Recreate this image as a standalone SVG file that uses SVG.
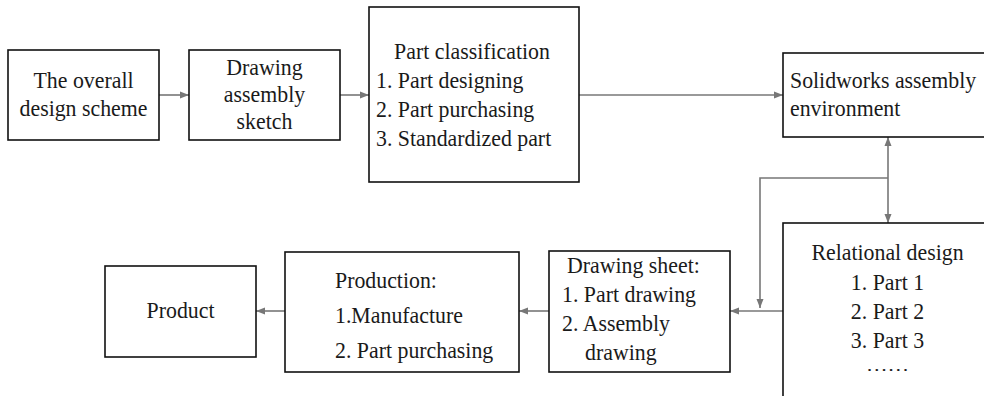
<svg xmlns="http://www.w3.org/2000/svg" width="984" height="396" viewBox="0 0 984 396">
<style>
.box{fill:#fff;stroke:#111;stroke-width:1.6}
.t{font-family:"Liberation Serif","Times New Roman",serif;font-size:24px;fill:#1a1a1a}
.c{text-anchor:middle}
.el{font-family:"Liberation Serif","Times New Roman",serif;font-size:16px;fill:#1a1a1a;text-anchor:middle}
.conn{fill:none;stroke:#777;stroke-width:1.6}
</style>
<defs>
<marker id="ah" markerUnits="userSpaceOnUse" markerWidth="10" markerHeight="8" refX="9" refY="4" orient="auto-start-reverse">
<path d="M0,0.5 L9,4 L0,7.5 z" fill="#777"/>
</marker>
</defs>
<rect width="984" height="396" fill="#fff"/>
<g id="connectors">
<line class="conn" x1="159" y1="95" x2="189" y2="95" marker-end="url(#ah)"/>
<line class="conn" x1="340" y1="95" x2="369" y2="95" marker-end="url(#ah)"/>
<line class="conn" x1="579" y1="95" x2="783" y2="95" marker-end="url(#ah)"/>
<line class="conn" x1="888" y1="137" x2="888" y2="223" marker-start="url(#ah)" marker-end="url(#ah)"/>
<polyline class="conn" points="888,178 760,178 760,308" marker-end="url(#ah)"/>
<line class="conn" x1="783" y1="311" x2="730" y2="311" marker-end="url(#ah)"/>
<line class="conn" x1="549" y1="311" x2="519" y2="311" marker-end="url(#ah)"/>
<line class="conn" x1="285" y1="311" x2="256" y2="311" marker-end="url(#ah)"/>
</g>
<g id="overall">
<rect class="box" x="8" y="50" width="151" height="90"/>
<text class="t c" transform="translate(83.5,88) scale(0.91,1)">The overall</text>
<text class="t c" transform="translate(83.5,116) scale(0.91,1)">design scheme</text>
</g>
<g id="sketch">
<rect class="box" x="189" y="50" width="151" height="90"/>
<text class="t c" transform="translate(264.5,75) scale(0.91,1)">Drawing</text>
<text class="t c" transform="translate(264.5,102) scale(0.91,1)">assembly</text>
<text class="t c" transform="translate(264.5,129) scale(0.91,1)">sketch</text>
</g>
<g id="classification">
<rect class="box" x="369" y="7" width="210" height="175"/>
<text class="t c" transform="translate(472,59) scale(0.91,1)">Part classification</text>
<text class="t" transform="translate(376,88) scale(0.91,1)">1. Part designing</text>
<text class="t" transform="translate(376,117) scale(0.91,1)">2. Part purchasing</text>
<text class="t" transform="translate(376,146) scale(0.91,1)">3. Standardized part</text>
</g>
<g id="solidworks">
<rect class="box" x="783" y="53" width="215" height="84"/>
<text class="t" transform="translate(790,88) scale(0.91,1)">Solidworks assembly</text>
<text class="t" transform="translate(790,116) scale(0.91,1)">environment</text>
</g>
<g id="relational">
<rect class="box" x="783" y="223" width="215" height="190"/>
<text class="t c" transform="translate(887.5,260) scale(0.91,1)">Relational design</text>
<text class="t c" transform="translate(887.5,290) scale(0.91,1)">1. Part 1</text>
<text class="t c" transform="translate(887.5,319) scale(0.91,1)">2. Part 2</text>
<text class="t c" transform="translate(887.5,348) scale(0.91,1)">3. Part 3</text>
<text class="el" transform="translate(887.5,371) scale(1.35,1)">……</text>
</g>
<g id="drawingsheet">
<rect class="box" x="549" y="251" width="181" height="121"/>
<text class="t" transform="translate(567,273) scale(0.91,1)">Drawing sheet:</text>
<text class="t" transform="translate(562,302) scale(0.91,1)">1. Part drawing</text>
<text class="t" transform="translate(562,331) scale(0.91,1)">2. Assembly</text>
<text class="t" transform="translate(585,360) scale(0.91,1)">drawing</text>
</g>
<g id="production">
<rect class="box" x="285" y="252" width="234" height="120"/>
<text class="t" transform="translate(335,288) scale(0.91,1)">Production:</text>
<text class="t" transform="translate(335,323) scale(0.91,1)">1.Manufacture</text>
<text class="t" transform="translate(335,358) scale(0.91,1)">2. Part purchasing</text>
</g>
<g id="product">
<rect class="box" x="105" y="266" width="151" height="91"/>
<text class="t c" transform="translate(180.5,318) scale(0.91,1)">Product</text>
</g>
</svg>
